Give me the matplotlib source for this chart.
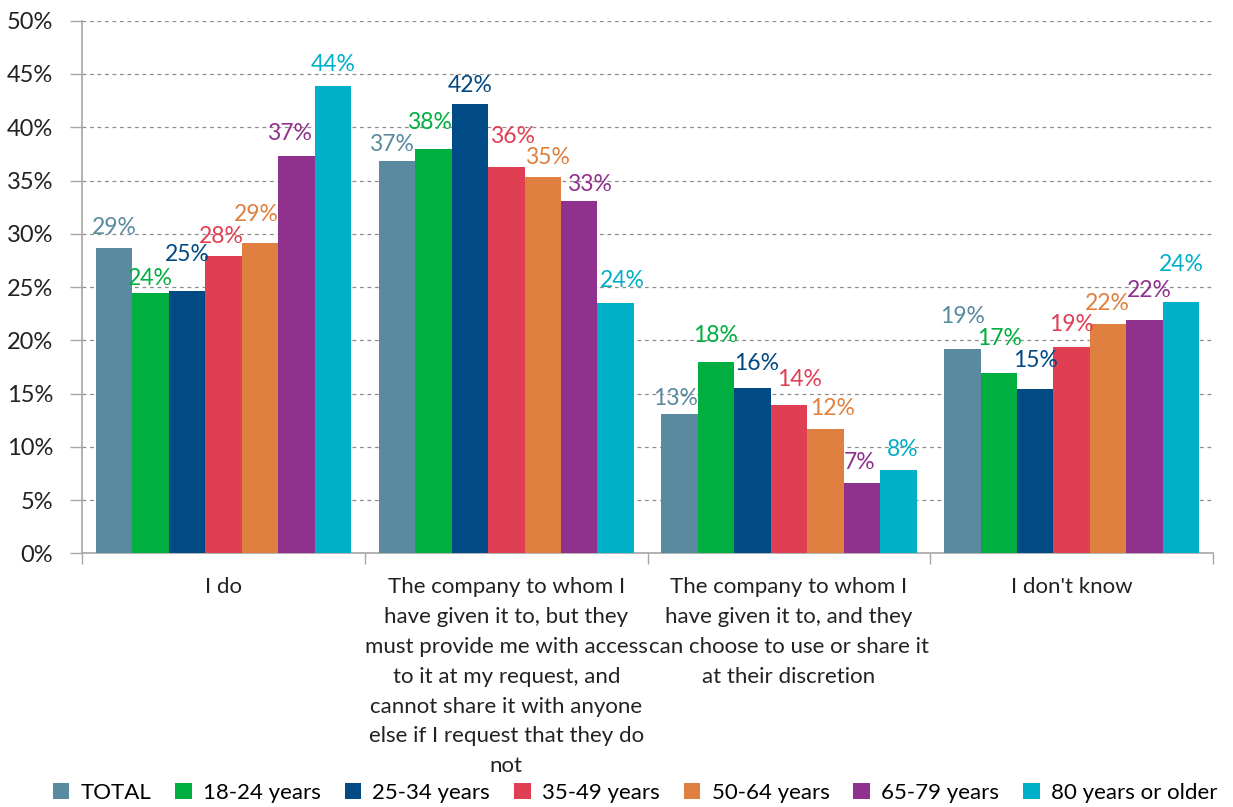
import matplotlib
matplotlib.use("Agg")
import matplotlib.pyplot as plt
import numpy as np

# --- data -------------------------------------------------------------
categories = [
    "I do",
    "The company to whom I\nhave given it to, but they\nmust provide me with access\n"
    "to it at my request, and\ncannot share it with anyone\nelse if I request that they do\nnot",
    "The company to whom I\nhave given it to, and they\ncan choose to use or share it\nat their discretion",
    "I don't know",
]
series = ["TOTAL", "18-24 years", "25-34 years", "35-49 years",
          "50-64 years", "65-79 years", "80 years or older"]

total = [28.7, 36.8, 13.1, 19.2]
age_18_24 = [24.4, 38.0, 18.0, 16.9]
age_25_34 = [24.6, 42.2, 15.5, 15.4]
age_35_49 = [27.9, 36.3, 13.9, 19.4]
age_50_64 = [29.1, 35.3, 11.7, 21.5]
age_65_79 = [37.3, 33.1, 6.6, 21.9]
age_80_up = [43.9, 23.5, 7.8, 23.6]
values = [total, age_18_24, age_25_34, age_35_49, age_50_64, age_65_79, age_80_up]

colors = ["#5A8A9F", "#00AF3F", "#004A86", "#E03E53", "#E08040", "#8F318D", "#00AFC8"]

# label nudges (pixels): rows = series, columns = categories
label_dy = [
    [14, 10, 9, 26],
    [8, 20, 20, 28],
    [30, 12, 18, 22],
    [13, 24, 19, 16],
    [22, 13, 14, 14],
    [16, 10, 14, 23],
    [15, 16, 14, 31],
]
label_dx = [
    [0, -5, -4, 0],
    [0, -4, 0, 1],
    [0, 0, 4, 0],
    [-2, 6, 11, 0],
    [-4, 5, 7, -1],
    [-7, 10, -2, 5],
    [0, 7, 4, 0],
]

# --- figure -----------------------------------------------------------
plt.rcParams["font.family"] = ["Lato", "DejaVu Sans"]
fig = plt.figure(figsize=(12.33, 8.07), dpi=100)
ax = fig.add_axes([0.0667, 0.3144, 0.9171, 0.6599])

n = len(series)
width = 0.129
x = np.arange(len(categories))

for i, (name, vals, col) in enumerate(zip(series, values, colors)):
    pos = x + (i - (n - 1) / 2) * width
    ax.bar(pos, vals, width=width, color=col, label=name, zorder=3, linewidth=0)
    for j, v in enumerate(vals):
        ax.annotate(f"{v:.0f}%", (pos[j], v),
                    xytext=(label_dx[i][j], label_dy[i][j]),
                    textcoords="offset pixels",
                    ha="center", va="baseline", fontsize=16.5, color=col, zorder=4)

ax.set_xlim(-0.5, len(categories) - 0.5)
ax.set_ylim(0, 50)
ax.set_yticks(np.arange(0, 51, 5))
ax.set_yticklabels([f"{t}%" for t in range(0, 51, 5)], fontsize=17, color="#222222")
ax.tick_params(axis="y", length=9, width=1, color="#a6a6a6", pad=12)

ax.set_xticks(x)
ax.set_xticklabels(categories, fontsize=16, color="#222222", linespacing=1.62)
ax.tick_params(axis="x", which="major", length=0, pad=17)
ax.set_xticks(np.arange(-0.5, len(categories)), minor=True)
ax.tick_params(axis="x", which="minor", length=8, width=1, color="#a6a6a6", direction="out")

ax.yaxis.grid(True, linestyle=(0, (3, 3)), color="#8c8c8c", linewidth=0.9, zorder=0)
for side in ["top", "right"]:
    ax.spines[side].set_visible(False)
for side in ["left", "bottom"]:
    ax.spines[side].set_color("#a6a6a6")
    ax.spines[side].set_linewidth(1.2)

fig.legend(loc="center", bbox_to_anchor=(0.515, 0.0173), ncol=n, frameon=False,
           fontsize=16, handlelength=0.75, handleheight=0.75, handletextpad=0.5,
           columnspacing=1.08, borderaxespad=0)

fig.savefig("out.png", dpi=100)
